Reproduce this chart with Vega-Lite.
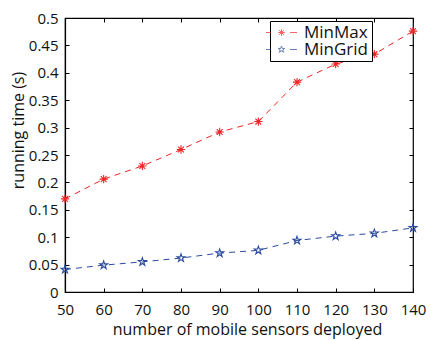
{
  "$schema": "https://vega.github.io/schema/vega-lite/v6.json",
  "width": 348,
  "height": 274,
  "autosize": {"type": "none"},
  "padding": {"left": 65, "top": 18, "right": 20, "bottom": 48},
  "background": "white",
  "config": {
    "font": "Open Sans",
    "view": {"stroke": "black", "strokeWidth": 1.2},
    "axis": {
      "domainColor": "black",
      "domainWidth": 1.2,
      "tickColor": "black",
      "tickSize": -4,
      "grid": false,
      "labelFont": "Open Sans",
      "labelFontSize": 15,
      "labelColor": "#111",
      "titleFont": "Open Sans",
      "titleFontSize": 16,
      "titleFontWeight": "normal",
      "titleColor": "#111"
    },
    "legend": {
      "title": null,
      "orient": "none",
      "legendX": 205,
      "legendY": 3,
      "direction": "vertical",
      "fillColor": "white",
      "strokeColor": "black",
      "padding": 3,
      "labelFontSize": 17,
      "labelFont": "Open Sans",
      "labelColor": "#111",
      "symbolSize": 100,
      "symbolStrokeWidth": 1,
      "rowPadding": -2,
      "labelOffset": 14
    }
  },
  "data": {
    "values": [
      {"n": 50, "t": 0.170, "series": "MinMax"},
      {"n": 60, "t": 0.206, "series": "MinMax"},
      {"n": 70, "t": 0.230, "series": "MinMax"},
      {"n": 80, "t": 0.260, "series": "MinMax"},
      {"n": 90, "t": 0.292, "series": "MinMax"},
      {"n": 100, "t": 0.311, "series": "MinMax"},
      {"n": 110, "t": 0.383, "series": "MinMax"},
      {"n": 120, "t": 0.416, "series": "MinMax"},
      {"n": 130, "t": 0.434, "series": "MinMax"},
      {"n": 140, "t": 0.476, "series": "MinMax"},
      {"n": 50, "t": 0.041, "series": "MinGrid"},
      {"n": 60, "t": 0.049, "series": "MinGrid"},
      {"n": 70, "t": 0.055, "series": "MinGrid"},
      {"n": 80, "t": 0.062, "series": "MinGrid"},
      {"n": 90, "t": 0.071, "series": "MinGrid"},
      {"n": 100, "t": 0.076, "series": "MinGrid"},
      {"n": 110, "t": 0.094, "series": "MinGrid"},
      {"n": 120, "t": 0.102, "series": "MinGrid"},
      {"n": 130, "t": 0.107, "series": "MinGrid"},
      {"n": 140, "t": 0.117, "series": "MinGrid"}
    ]
  },
  "resolve": {"axis": {"x": "independent", "y": "independent"}, "scale": {"shape": "independent"}, "legend": {"shape": "independent", "color": "independent"}},
  "layer": [
    {
      "mark": {"type": "line", "strokeDash": [6, 5], "strokeWidth": 1},
      "encoding": {
        "x": {"field": "n", "type": "quantitative", "scale": {"domain": [50, 140], "nice": false},
              "axis": {"values": [50, 60, 70, 80, 90, 100, 110, 120, 130, 140], "title": "number of mobile sensors deployed", "labelPadding": 14, "titlePadding": 4, "titleX": 182, "labelFlush": false}},
        "y": {"field": "t", "type": "quantitative", "scale": {"domain": [0, 0.5], "nice": false},
              "axis": {"values": [0, 0.05, 0.1, 0.15, 0.2, 0.25, 0.3, 0.35, 0.4, 0.45, 0.5], "format": ".2~f", "title": "running time (s)", "labelPadding": 11, "titlePadding": 2, "titleY": 112, "labelFlush": false}},
        "color": {"field": "series", "type": "nominal", "scale": {"domain": ["MinMax", "MinGrid"], "range": ["#f02424", "#2a4a9e"]}, "legend": null},
        "detail": {"field": "series"}
      }
    },
    {
      "mark": {"type": "point", "filled": false, "strokeWidth": 1.1, "opacity": 1},
      "encoding": {
        "x": {"field": "n", "type": "quantitative", "axis": null},
        "y": {"field": "t", "type": "quantitative", "axis": null},
        "color": {"field": "series", "type": "nominal", "legend": null},
        "shape": {
          "field": "series", "type": "nominal",
          "scale": {"domain": ["MinMax", "MinGrid"], "range": [
            "M-1,0L1,0M0,-1L0,1M-0.7,-0.7L0.7,0.7M-0.7,0.7L0.7,-0.7",
            "M0,-1L0.225,-0.309L0.951,-0.309L0.363,0.118L0.588,0.809L0,0.382L-0.588,0.809L-0.363,0.118L-0.951,-0.309L-0.225,-0.309Z"
          ]},
          "legend": null
        },
        "size": {"value": 70}
      }
    },
    {
      "transform": [{"filter": "datum.n < 0"}],
      "mark": {"type": "point", "filled": false, "strokeWidth": 1},
      "encoding": {
        "x": {"field": "n", "type": "quantitative", "axis": null},
        "y": {"field": "t", "type": "quantitative", "axis": null},
        "color": {"field": "series", "type": "nominal", "legend": {}},
        "shape": {
          "field": "series", "type": "nominal",
          "scale": {"domain": ["MinMax", "MinGrid"], "range": [
            "M-3.1,0L-2.1,0M1.7,0L3.1,0M-0.66,0L0.66,0M0,-0.66L0,0.66M-0.47,-0.47L0.47,0.47M-0.47,0.47L0.47,-0.47",
            "M-3.1,0L-2.1,0M1.7,0L3.1,0M0,-0.7L0.157,-0.216L0.666,-0.216L0.254,0.083L0.411,0.566L0,0.267L-0.411,0.566L-0.254,0.083L-0.666,-0.216L-0.157,-0.216Z"
          ]},
          "legend": {}
        }
      }
    },
    {
      "mark": {"type": "point", "opacity": 0},
      "encoding": {
        "x": {"field": "n", "type": "quantitative",
              "axis": {"orient": "top", "values": [50, 60, 70, 80, 90, 100, 110, 120, 130, 140], "labels": false, "title": null, "domain": false}},
        "y": {"field": "t", "type": "quantitative",
              "axis": {"orient": "right", "values": [0, 0.05, 0.1, 0.15, 0.2, 0.25, 0.3, 0.35, 0.4, 0.45, 0.5], "labels": false, "title": null, "domain": false}}
      }
    }
  ]
}
